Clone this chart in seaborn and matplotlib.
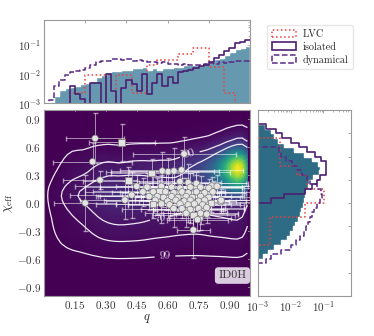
import numpy as np
import pandas as pd
import matplotlib
matplotlib.use("Agg")
import matplotlib.pyplot as plt
import seaborn as sns
from matplotlib.patches import Patch
from matplotlib.ticker import MultipleLocator, FixedLocator

sns.set_style("white")
plt.rcParams["font.family"] = "serif"
plt.rcParams["font.serif"] = ["cmr10"]
plt.rcParams["mathtext.fontset"] = "cm"
plt.rcParams["axes.formatter.use_mathtext"] = True
plt.rcParams["axes.unicode_minus"] = True

## binning
q_edges = list(np.linspace(0, 1, 41))
chi_edges = list(np.linspace(-1, 1, 41))
q_mid = 0.5 * (np.array(q_edges[1:]) + np.array(q_edges[:-1]))
chi_mid = 0.5 * (np.array(chi_edges[1:]) + np.array(chi_edges[:-1]))

## top panel, log10 of bin heights (q bins of 0.025)
q_mix_log = [-5, -5, -2.75, -2.55, -2.5, -2.45, -2.4, -2.35, -2.3, -2.25,
             -2.1, -2.05, -1.95, -1.9, -1.9, -1.85, -1.85, -1.8, -1.8, -1.75,
             -1.85, -1.8, -1.85, -1.8, -1.8, -1.75, -1.75, -1.7, -1.7, -1.7,
             -1.7, -1.65, -1.6, -1.5, -1.45, -1.35, -1.25, -1.15, -1.1, -1.05]
q_iso_log = [-5, -5, -5, -5, -5, -2.4, -2.7, -2.85, -5, -2.3,
             -2.3, -5, -2.0, -2.6, -5, -2.5, -2.2, -2.35, -2.6, -2.0,
             -2.7, -2.3, -2.0, -2.4, -2.1, -2.3, -1.95, -1.9, -1.85, -1.8,
             -1.72, -1.7, -1.6, -1.45, -1.35, -1.2, -1.1, -0.95, -0.9, -0.83]
q_dyn_log = [-5, -2.9, -2.4, -2.2, -2.05, -1.95, -1.9, -1.85, -1.8, -1.7,
             -1.6, -1.55, -1.55, -1.5, -1.5, -1.52, -1.5, -1.55, -1.52, -1.55,
             -1.58, -1.6, -1.62, -1.6, -1.65, -1.65, -1.68, -1.66, -1.7, -1.68,
             -1.7, -1.66, -1.62, -1.65, -1.6, -1.62, -1.58, -1.55, -1.57, -1.55]
q_lvc_log = [-5, -5, -5, -5, -5, -2.65, -2.65, -2.65, -2.05, -2.05,
             -2.05, -2.05, -5, -5, -2.05, -2.05, -2.05, -2.65, -2.65, -2.65,
             -1.7, -1.7, -1.52, -1.52, -1.52, -1.52, -1.3, -1.3, -1.3, -1.1,
             -1.1, -1.1, -1.75, -1.75, -1.75, -2.65, -2.65, -5, -5, -5]

## right panel, log10 of bin heights (chi_eff bins of 0.05, from -1)
chi_mix_log = [-5, -5, -5, -5, -5, -5, -5, -5, -2.85, -2.7,
               -2.5, -2.3, -2.12, -2.02, -1.93, -1.85, -1.78, -1.72, -1.67, -1.63,
               -1.6, -1.56, -1.52, -1.47, -1.42, -1.3, -1.12, -1.08, -1.15, -1.35,
               -1.6, -1.9, -2.2, -2.4, -2.5, -2.6, -2.8, -5, -5, -5]
chi_iso_log = [-5, -5, -5, -5, -5, -5, -5, -5, -5, -5,
               -5, -5, -5, -5, -5, -5, -5, -5, -5, -5,
               -2.6, -2.2, -1.55, -1.35, -1.2, -1.08, -0.92, -0.9, -0.92, -1.05,
               -1.25, -1.5, -1.75, -2.0, -2.25, -2.45, -2.75, -5, -5, -5]
chi_dyn_log = [-5, -5, -5, -5, -5, -5, -5, -2.75, -2.6, -2.3,
               -2.0, -1.82, -1.7, -1.6, -1.52, -1.45, -1.4, -1.33, -1.27, -1.2,
               -1.1, -1.03, -1.05, -1.2, -1.4, -1.5, -1.65, -1.8, -1.95, -2.15,
               -2.3, -2.35, -5, -5, -5, -5, -5, -5, -5, -5]
chi_lvc_log = [-5, -5, -5, -5, -5, -5, -5, -5, -5, -5,
               -5, -2.63, -2.63, -2.63, -2.63, -2.63, -2.63, -1.55, -1.55, -1.55,
               -0.98, -0.98, -0.98, -1.5, -1.5, -1.5, -1.8, -1.8, -2.32, -2.32,
               -2.32, -2.32, -2.32, -2.32, -5, -5, -5, -5, -5, -5]

iso_frac_map = 0.65   # weight of isolated channel in the colour map
iso_frac_cont = 0.3   # weight of isolated channel in the credible contours

## observed events: q, chi_eff, errors, marker kind
pt_q = [0.248, 0.377, 0.236, 0.272, 0.20, 0.41, 0.45, 0.393, 0.426, 0.68,
        0.523, 0.574, 0.603, 0.631, 0.668, 0.725, 0.725, 0.757, 0.81, 0.858,
        0.814, 0.66, 0.70, 0.74, 0.50, 0.57, 0.62, 0.66, 0.71, 0.76,
        0.80, 0.84, 0.48, 0.53, 0.56, 0.59, 0.63, 0.67, 0.70, 0.74,
        0.78, 0.82, 0.51, 0.55, 0.58, 0.62, 0.65, 0.69, 0.72, 0.76,
        0.80, 0.54, 0.60, 0.64, 0.68, 0.71, 0.75, 0.78, 0.86, 0.53,
        0.57, 0.61, 0.66, 0.70, 0.73, 0.77, 0.63, 0.67, 0.71, 0.75,
        0.79, 0.69, 0.76, 0.79, 0.745]
pt_chi = [0.695, 0.652, 0.444, 0.247, 0.0, 0.24, 0.18, 0.032, 0.086, 0.527,
          0.32, 0.344, 0.337, 0.344, 0.355, -0.29, -0.13, -0.165, 0.0, 0.014,
          0.183, 0.23, 0.22, 0.21, 0.17, 0.18, 0.17, 0.16, 0.17, 0.17,
          0.16, 0.18, 0.12, 0.12, 0.13, 0.12, 0.11, 0.12, 0.11, 0.12,
          0.11, 0.12, 0.07, 0.07, 0.06, 0.07, 0.06, 0.07, 0.06, 0.07,
          0.06, 0.03, 0.02, 0.03, 0.02, 0.03, 0.02, 0.03, 0.03, -0.01,
          -0.01, -0.02, -0.01, -0.02, -0.01, -0.02, -0.06, -0.06, -0.07, -0.06,
          -0.05, -0.11, -0.11, -0.12, -0.18]
pt_qerr = [0.14, 0.16, 0.19, 0.18, 0.15, 0.22, 0.30, 0.22, 0.30, 0.25,
           0.20, 0.25, 0.30, 0.22, 0.30, 0.08, 0.20, 0.15, 0.17, 0.25,
           0.30, 0.20, 0.28, 0.25, 0.30, 0.22, 0.35, 0.18, 0.25, 0.20,
           0.22, 0.15, 0.28, 0.20, 0.32, 0.18, 0.25, 0.30, 0.15, 0.22,
           0.20, 0.18, 0.25, 0.30, 0.20, 0.35, 0.18, 0.22, 0.28, 0.20,
           0.15, 0.25, 0.30, 0.20, 0.22, 0.30, 0.18, 0.20, 0.15, 0.28,
           0.22, 0.20, 0.25, 0.18, 0.22, 0.20, 0.25, 0.20, 0.18, 0.22,
           0.18, 0.20, 0.18, 0.15, 0.15]
pt_chierr = [0.27, 0.2, 0.2, 0.1, 0.3, 0.15, 0.12, 0.2, 0.25, 0.18,
             0.15, 0.2, 0.15, 0.25, 0.22, 0.3, 0.15, 0.12, 0.1, 0.12,
             0.1, 0.15, 0.2, 0.12, 0.15, 0.12, 0.2, 0.1, 0.15, 0.12,
             0.1, 0.12, 0.15, 0.18, 0.12, 0.2, 0.1, 0.15, 0.12, 0.18,
             0.1, 0.12, 0.15, 0.2, 0.1, 0.12, 0.15, 0.2, 0.12, 0.1,
             0.15, 0.12, 0.18, 0.1, 0.15, 0.12, 0.2, 0.1, 0.12, 0.15,
             0.2, 0.12, 0.1, 0.18, 0.15, 0.12, 0.2, 0.1, 0.15, 0.12,
             0.1, 0.15, 0.12, 0.1, 0.12]
pt_kind = ["o"] * len(pt_q)
for i in [1, 5, 10, 16, 18, 34, 59]:
    pt_kind[i] = "s"

c_fill_top = "#6699b0"
c_fill_right = "#2e6b85"
c_iso = "#4b1f72"
c_dyn = "#5a2a86"
c_lvc = "#f03c3c"

fig = plt.figure(figsize=(3.74, 3.36), dpi=100)
ax_main = fig.add_axes([44 / 374, 40 / 336, 206 / 374, 186 / 336])
ax_top = fig.add_axes([44 / 374, 233 / 336, 206 / 374, 83 / 336])
ax_right = fig.add_axes([258 / 374, 40 / 336, 93 / 374, 186 / 336])

## top histogram
top = pd.DataFrame({"q": q_mid, "mix": 10 ** np.array(q_mix_log), "iso": 10 ** np.array(q_iso_log),
                    "dyn": 10 ** np.array(q_dyn_log), "lvc": 10 ** np.array(q_lvc_log)})
sns.histplot(data=top, x="q", weights="mix", bins=q_edges, element="step", fill=True,
             color=c_fill_top, alpha=1, edgecolor="white", linewidth=1.0, ax=ax_top)
sns.histplot(data=top, x="q", weights="lvc", bins=q_edges, element="step", fill=False,
             color=c_lvc, linestyle=":", linewidth=1.1, ax=ax_top)
sns.histplot(data=top, x="q", weights="dyn", bins=q_edges, element="step", fill=False,
             color=c_dyn, linestyle="--", linewidth=1.1, ax=ax_top)
sns.histplot(data=top, x="q", weights="iso", bins=q_edges, element="step", fill=False,
             color=c_iso, linestyle="-", linewidth=1.2, ax=ax_top)
ax_top.set_yscale("log")
ax_top.set_xlim(0, 1)
ax_top.set_ylim(1e-3, 0.72)
ax_top.set_xlabel("")
ax_top.set_ylabel("")
ax_top.tick_params(axis="x", labelbottom=False)

## right histogram
side = pd.DataFrame({"chi": chi_mid, "mix": 10 ** np.array(chi_mix_log), "iso": 10 ** np.array(chi_iso_log),
                     "dyn": 10 ** np.array(chi_dyn_log), "lvc": 10 ** np.array(chi_lvc_log)})
sns.histplot(data=side, y="chi", weights="mix", bins=chi_edges, element="step", fill=True,
             color=c_fill_right, alpha=1, edgecolor="white", linewidth=1.0, ax=ax_right)
sns.histplot(data=side, y="chi", weights="lvc", bins=chi_edges, element="step", fill=False,
             color=c_lvc, linestyle=":", linewidth=1.1, ax=ax_right)
sns.histplot(data=side, y="chi", weights="dyn", bins=chi_edges, element="step", fill=False,
             color=c_dyn, linestyle="--", linewidth=1.1, ax=ax_right)
sns.histplot(data=side, y="chi", weights="iso", bins=chi_edges, element="step", fill=False,
             color=c_iso, linestyle="-", linewidth=1.2, ax=ax_right)
ax_right.set_xscale("log")
ax_right.set_xlim(1e-3, 0.72)
ax_right.set_ylim(-1, 1)
ax_right.set_xlabel("")
ax_right.set_ylabel("")
ax_right.yaxis.set_major_locator(MultipleLocator(0.25))
ax_right.tick_params(axis="y", labelleft=False)

## 2D model density from the two channels
iso2d = np.outer(10 ** np.array(chi_iso_log), 10 ** np.array(q_iso_log))
dyn2d = np.outer(10 ** np.array(chi_dyn_log), 10 ** np.array(q_dyn_log))
iso2d = iso2d / iso2d.sum()
dyn2d = dyn2d / dyn2d.sum()
k = np.array([0.25, 0.5, 0.25])


def smooth(a, n):
    for _ in range(n):
        a = np.apply_along_axis(lambda r: np.convolve(r, k, mode="same"), 0, a)
        a = np.apply_along_axis(lambda r: np.convolve(r, k, mode="same"), 1, a)
    return a


dens_map = smooth(iso_frac_map * iso2d + (1 - iso_frac_map) * dyn2d, 5)
dens = smooth(iso_frac_cont * iso2d + (1 - iso_frac_cont) * dyn2d, 3)

ax_main.set_facecolor(plt.get_cmap("viridis")(0.0))
ax_main.pcolormesh(q_mid, chi_mid, dens_map, cmap="viridis", shading="gouraud",
                   vmin=0, vmax=dens_map.max())

flat = np.sort(dens.ravel())[::-1]
cum = np.cumsum(flat) / flat.sum()
levels = [flat[np.searchsorted(cum, p)] for p in (0.99, 0.90, 0.70)]
cs = ax_main.contour(q_mid, chi_mid, dens, levels=levels, colors="#efe8f5", linewidths=0.9)
ax_main.clabel(cs, fmt=dict(zip(cs.levels, ["99", "90", "70"])), fontsize=8, inline=True)

## events
ax_main.errorbar(pt_q, pt_chi, xerr=pt_qerr, yerr=pt_chierr, fmt="none", ecolor="white",
                 elinewidth=0.7, capsize=1.8, alpha=0.55, zorder=3)
pts = pd.DataFrame({"q": pt_q, "chi": pt_chi, "kind": pt_kind})
sns.scatterplot(data=pts, x="q", y="chi", style="kind", markers={"o": "o", "s": "s"},
                s=22, color="#e4e4e4", edgecolor="#7a7a7a", linewidth=0.5,
                legend=False, zorder=4, ax=ax_main)

ax_main.text(0.915, -0.78, "ID0H", ha="center", va="center", fontsize=8.5, color="#333333",
             bbox=dict(boxstyle="round,pad=0.3", fc="#e3d7ea", ec="none", alpha=0.95), zorder=5)

ax_main.set_xlim(0, 1)
ax_main.set_ylim(-1, 1)
ax_main.xaxis.set_major_locator(FixedLocator([0.15, 0.30, 0.45, 0.60, 0.75, 0.90]))
ax_main.yaxis.set_major_locator(MultipleLocator(0.3))
ax_main.set_xlabel(r"$q$", fontsize=9, labelpad=1)
ax_main.set_ylabel(r"$\chi_{\rm eff}$", fontsize=9, labelpad=1)

for ax in (ax_main, ax_top, ax_right):
    for s in ax.spines.values():
        s.set_color("#999999")
        s.set_linewidth(0.8)
    ax.tick_params(direction="in", length=2.5, width=0.6, color="#999999",
                   labelsize=8, labelcolor="#333333", top=True, right=True, pad=2)
    ax.tick_params(which="minor", direction="in", length=1.5, width=0.5, color="#999999",
                   top=True, right=True)

handles = [Patch(facecolor="none", edgecolor=c_lvc, linestyle=":", linewidth=1.1, label="LVC"),
           Patch(facecolor="none", edgecolor=c_iso, linestyle="-", linewidth=1.2, label="isolated"),
           Patch(facecolor="none", edgecolor=c_dyn, linestyle="--", linewidth=1.1, label="dynamical")]
fig.legend(handles=handles, loc="upper left", bbox_to_anchor=(267 / 374, 1 - 25 / 336),
           borderaxespad=0, fontsize=7.3, frameon=True, edgecolor="#e0e0e0",
           handlelength=2.4, handleheight=0.75, borderpad=0.45, labelspacing=0.3,
           handletextpad=0.7)

fig.savefig("out.png", dpi=100)
